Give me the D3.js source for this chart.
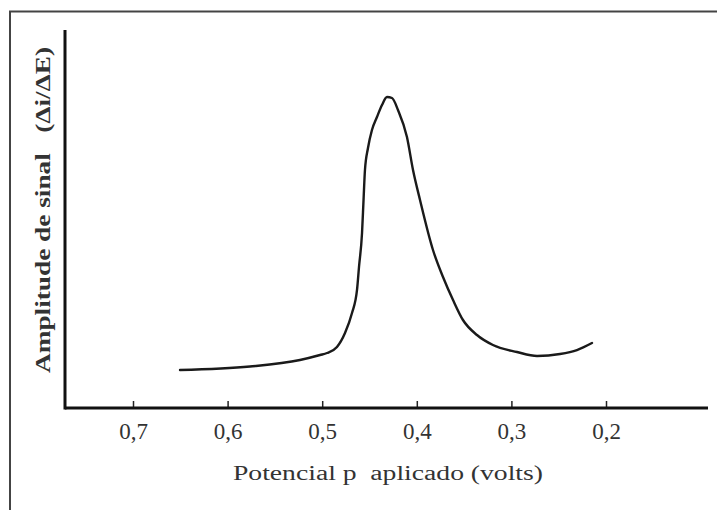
<!DOCTYPE html>
<html><head><meta charset="utf-8">
<script src="https://cdn.jsdelivr.net/npm/d3@7"></script>
<style>body{margin:0;background:#fff}svg{display:block}</style>
</head><body>
<svg id="c" width="717" height="510"></svg>
<script>
const potential = [0.6503,0.5763,0.5235,0.5023,0.4949,0.4844,0.4759,0.4685,0.4632,0.4611,0.4579,0.4563,0.4548,0.4516,0.4474,0.4421,0.4368,0.4315,0.4262,0.4199,0.4104,0.4040,0.3966,0.3829,0.3723,0.3617,0.3512,0.3364,0.3195,0.2941,0.2729,0.2486,0.2307,0.2148];
const amplitude = [10.05,10.98,12.70,14.02,14.55,16.14,19.84,25.13,31.22,37.30,46.30,55.03,62.96,68.78,73.54,76.98,80.16,82.28,82.01,78.84,71.69,62.96,55.03,41.80,34.66,28.57,23.28,19.31,16.67,14.81,13.76,14.29,15.34,17.20];
const xTicks = [0.7,0.6,0.5,0.4,0.3,0.2];
const xTickLabels = ["0,7","0,6","0,5","0,4","0,3","0,2"];
const xTitle = "Potencial p\u00a0 aplicado (volts)";
const yTitle = "Amplitude de sinal\u00a0\u00a0\u00a0(\u0394i/\u0394E)";

const svg = d3.select("#c");
const x = d3.scaleLinear().domain([0.7,0.2]).range([133,606]);
const y = d3.scaleLinear().domain([0,100]).range([408,30]);
const x0 = 65, x1 = 708;

// frame
svg.append("path").attr("d","M10,510 V11.5 H717").attr("fill","none").attr("stroke","#444").attr("stroke-width",2);

// axes
const xAxis = d3.axisBottom(x).tickValues(xTicks).tickSizeInner(-7).tickSizeOuter(0).tickFormat((d,i)=>xTickLabels[i]).tickPadding(15);
const gx = svg.append("g").attr("transform",`translate(0,${y(0)})`).call(xAxis);
gx.select(".domain").remove();
gx.selectAll(".tick line").attr("stroke","#222").attr("stroke-width",1.5);
gx.selectAll(".tick text").attr("font-family","Liberation Serif").attr("font-size",23).attr("fill","#333");
svg.append("line").attr("x1",x0).attr("x2",x1).attr("y1",y(0)).attr("y2",y(0)).attr("stroke","#111").attr("stroke-width",3);
svg.append("line").attr("x1",x0).attr("x2",x0).attr("y1",y(0)+1.5).attr("y2",y(100)).attr("stroke","#111").attr("stroke-width",3);

// curve
const line = d3.line().x(d=>x(d[0])).y(d=>y(d[1])).curve(d3.curveMonotoneX);
svg.append("path").datum(potential.map((p,i)=>[p,amplitude[i]])).attr("d",line)
  .attr("fill","none").attr("stroke","#1a1a1a").attr("stroke-width",2.4).attr("stroke-linecap","round");

// titles
svg.append("text").attr("x",388).attr("y",480).attr("text-anchor","middle")
  .attr("font-family","Liberation Serif").attr("font-size",20).attr("fill","#333")
  .attr("textLength",310).attr("lengthAdjust","spacingAndGlyphs").text(xTitle);
svg.append("text").attr("transform","translate(50,210) rotate(-90)").attr("text-anchor","middle")
  .attr("font-family","Liberation Serif").attr("font-size",20).attr("font-weight","bold").attr("fill","#333")
  .attr("textLength",326).attr("lengthAdjust","spacingAndGlyphs").text(yTitle);
</script>
</body></html>
